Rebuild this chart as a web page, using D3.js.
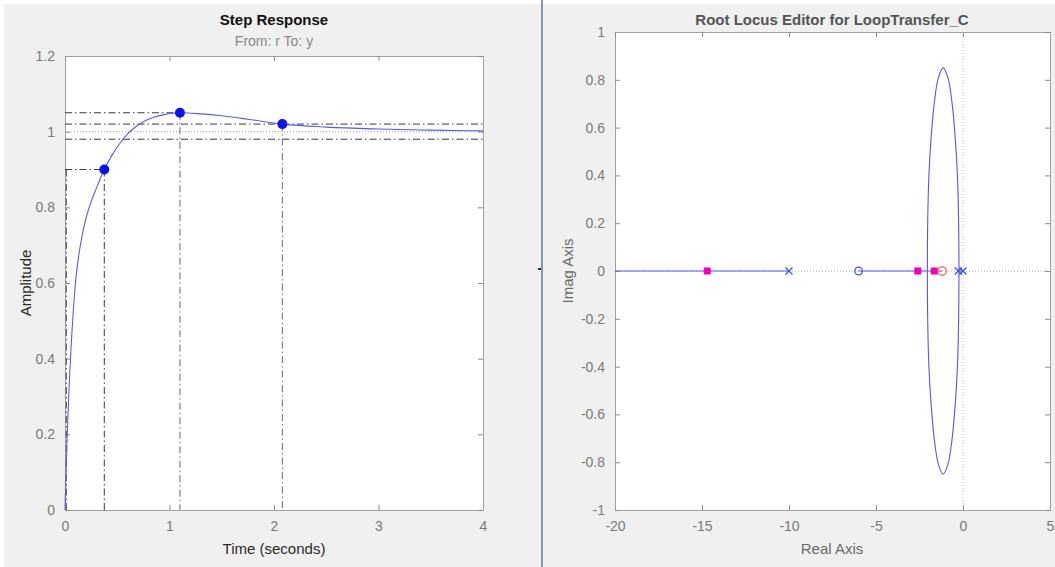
<!DOCTYPE html>
<html>
<head>
<meta charset="utf-8">
<script src="https://cdn.jsdelivr.net/npm/d3@7"></script>
<style>
  html, body { margin: 0; padding: 0; background: #ffffff; }
  svg { display: block; font-family: "Liberation Sans", Arial, sans-serif; }
</style>
</head>
<body>
<svg id="fig" width="1055" height="567"></svg>
<script>
// ---- Step response samples (time in s, amplitude) ----
const stepTime = [0, 0.01, 0.02, 0.04, 0.06, 0.08, 0.10, 0.13, 0.16, 0.20, 0.25, 0.30, 0.376, 0.45, 0.533, 0.60, 0.65, 0.75, 0.85, 0.95, 1.10, 1.30, 1.50, 1.75, 2.08, 2.50, 3.00, 3.50, 4.00];
const stepAmp  = [0, 0.10, 0.19, 0.33, 0.44, 0.53, 0.60, 0.67, 0.72, 0.77, 0.815, 0.85, 0.90, 0.938, 0.972, 0.994, 1.007, 1.026, 1.038, 1.045, 1.05, 1.047, 1.042, 1.033, 1.02, 1.012, 1.007, 1.004, 1.002];

// Characteristic points: rise time (90%), peak, settling time
const riseTime = 0.376, riseLevel = 0.90, riseStart = 0.012;
const peakTime = 1.10, peakAmp = 1.05;
const settleTime = 2.08, settleAmp = 1.02;
const settleBand = [1.02, 0.98];
const steadyState = 1.0;

const stepXTicks = [0, 1, 2, 3, 4];
const stepYTicks = [0, 0.2, 0.4, 0.6, 0.8, 1, 1.2];

// ---- Root locus (real, imaginary) ----
const locusUpperRe = [-0.23, -0.25, -0.32, -0.45, -0.64, -0.87, -1.14, -1.41, -1.64, -1.83, -1.96, -2.03, -2.05];
const locusUpperIm = [0, 0.2, 0.4, 0.56, 0.71, 0.81, 0.85, 0.81, 0.71, 0.56, 0.4, 0.2, 0];
const locusLowerRe = [-0.23, -0.25, -0.32, -0.45, -0.64, -0.87, -1.14, -1.41, -1.64, -1.83, -1.96, -2.03, -2.05];
const locusLowerIm = [0, -0.2, -0.4, -0.56, -0.71, -0.81, -0.85, -0.81, -0.71, -0.56, -0.4, -0.2, 0];
const realAxisSegments = [[-20, -10], [-6, -1.2], [-0.27, 0]];

const openLoopPoles = [-10, -0.27, 0];
const plantZeros = [-6];
const compensatorZeros = [-1.2];
const closedLoopPoles = [-14.7, -2.6, -1.65];

const rlXTicks = [-20, -15, -10, -5, 0, 5];
const rlYTicks = [-1, -0.8, -0.6, -0.4, -0.2, 0, 0.2, 0.4, 0.6, 0.8, 1];

// ---- Layout ----
const svg = d3.select("#fig");
const W = 1055, H = 567;

svg.append("rect").attr("x", 4).attr("y", 4).attr("width", W - 4).attr("height", H - 4).attr("fill", "#f0f0f0");
// panel splitter
svg.append("rect").attr("x", 541).attr("y", 0).attr("width", 2).attr("height", H).attr("fill", "#8596b3");
svg.append("rect").attr("x", 538).attr("y", 268).attr("width", 3).attr("height", 2).attr("fill", "#333");

const tickColor = "#8a8a8a";
const labelColor = "#7a7a7a";
const plainNum = d => String(d);   // ASCII hyphen for negatives

function drawBox(g, x0, x1, y0, y1, xs, ys, xTicks, yTicks) {
  g.append("rect").attr("x", x0).attr("y", y0).attr("width", x1 - x0).attr("height", y1 - y0)
    .attr("fill", "#ffffff");
  const ax = g.append("g").attr("transform", `translate(0,${y1})`)
    .call(d3.axisBottom(xs).tickValues(xTicks).tickSizeInner(-5).tickSizeOuter(0).tickPadding(11).tickFormat(plainNum));
  const ay = g.append("g").attr("transform", `translate(${x0},0)`)
    .call(d3.axisLeft(ys).tickValues(yTicks).tickSizeInner(-5).tickSizeOuter(0).tickPadding(10).tickFormat(plainNum));
  const at = g.append("g").attr("transform", `translate(0,${y0})`)
    .call(d3.axisTop(xs).tickValues(xTicks).tickSizeInner(-5).tickSizeOuter(0).tickFormat(""));
  const ar = g.append("g").attr("transform", `translate(${x1},0)`)
    .call(d3.axisRight(ys).tickValues(yTicks).tickSizeInner(-5).tickSizeOuter(0).tickFormat(""));
  [ax, ay, at, ar].forEach(a => {
    a.select(".domain").attr("stroke", "#a0a0a0");
    a.selectAll(".tick line").attr("stroke", tickColor);
    a.selectAll(".tick text").attr("fill", labelColor).attr("font-size", 14)
      .attr("font-family", "Liberation Sans, Arial, sans-serif");
  });
}

// ================= Step response =================
const L = { x0: 65, x1: 483, y0: 56, y1: 510 };
const sx = d3.scaleLinear().domain([0, 4]).range([L.x0, L.x1]);
const sy = d3.scaleLinear().domain([0, 1.2]).range([L.y1, L.y0]);
const gL = svg.append("g");
drawBox(gL, L.x0, L.x1, L.y0, L.y1, sx, sy, stepXTicks, stepYTicks);

const dashDot = "7,3,1.5,3";
const refColor = "#3a3a3a";
function hLine(g, xa, xb, y, dash, color) {
  g.append("line").attr("x1", sx(xa)).attr("x2", sx(xb)).attr("y1", sy(y)).attr("y2", sy(y))
    .attr("stroke", color).attr("stroke-width", 1).attr("stroke-dasharray", dash);
}
function vLine(g, x, ya, yb, dash, color) {
  g.append("line").attr("x1", sx(x)).attr("x2", sx(x)).attr("y1", sy(ya)).attr("y2", sy(yb))
    .attr("stroke", color).attr("stroke-width", 1).attr("stroke-dasharray", dash);
}
// steady-state value
hLine(gL, 0, 4, steadyState, "1,2", "#a8a8a8");
// settling band
settleBand.forEach(v => hLine(gL, 0, 4, v, dashDot, refColor));
// peak
hLine(gL, 0, peakTime, peakAmp, dashDot, refColor);
vLine(gL, peakTime, peakAmp, 0, dashDot, "#6a6a6a");
// rise time
hLine(gL, 0, riseTime, riseLevel, dashDot, refColor);
vLine(gL, riseTime, riseLevel, 0, dashDot, refColor);
vLine(gL, riseStart, riseLevel, 0, dashDot, refColor);
// settling time
vLine(gL, settleTime, settleAmp, 0, dashDot, "#6a6a6a");

const stepPts = stepTime.map((t, i) => [t, stepAmp[i]]);
gL.append("path").datum(stepPts)
  .attr("d", d3.line().x(d => sx(d[0])).y(d => sy(d[1])).curve(d3.curveMonotoneX))
  .attr("fill", "none").attr("stroke", "#5b5bf0").attr("stroke-width", 1.1);

const charPts = [[riseTime, riseLevel], [peakTime, peakAmp], [settleTime, settleAmp]];
gL.selectAll("circle.char").data(charPts).join("circle").attr("class", "char")
  .attr("cx", d => sx(d[0])).attr("cy", d => sy(d[1])).attr("r", 5).attr("fill", "#0a14f0");

gL.append("text").attr("x", 274).attr("y", 25).attr("text-anchor", "middle")
  .attr("font-size", 15).attr("font-weight", "bold").attr("fill", "#111").text("Step Response");
gL.append("text").attr("x", 274).attr("y", 46).attr("text-anchor", "middle")
  .attr("font-size", 14).attr("fill", "#8a8a8a").text("From: r  To: y");
gL.append("text").attr("x", 274).attr("y", 554).attr("text-anchor", "middle")
  .attr("font-size", 15).attr("fill", "#2a2a2a").text("Time (seconds)");
gL.append("text").attr("transform", "translate(31,283) rotate(-90)").attr("text-anchor", "middle")
  .attr("font-size", 15).attr("fill", "#2a2a2a").text("Amplitude");

// ================= Root locus =================
const R = { x0: 615, x1: 1050, y0: 32, y1: 510 };
const rx = d3.scaleLinear().domain([-20, 5]).range([R.x0, R.x1]);
const ry = d3.scaleLinear().domain([-1, 1]).range([R.y1, R.y0]);
const gR = svg.append("g");
drawBox(gR, R.x0, R.x1, R.y0, R.y1, rx, ry, rlXTicks, rlYTicks);

// reference axes through the origin
gR.append("line").attr("x1", rx(-20)).attr("x2", rx(5)).attr("y1", ry(0)).attr("y2", ry(0))
  .attr("stroke", "#a9b0c8").attr("stroke-dasharray", "1,2");
gR.append("line").attr("x1", rx(0)).attr("x2", rx(0)).attr("y1", ry(1)).attr("y2", ry(-1))
  .attr("stroke", "#b8b8b8").attr("stroke-dasharray", "1,2");

const locusColor = "#5757ee";
realAxisSegments.forEach(s => {
  gR.append("line").attr("x1", rx(s[0])).attr("x2", rx(s[1])).attr("y1", ry(0)).attr("y2", ry(0))
    .attr("stroke", locusColor).attr("stroke-width", 1.1);
});
const locLine = d3.line().x(d => rx(d[0])).y(d => ry(d[1])).curve(d3.curveCatmullRom);
gR.append("path").datum(locusUpperRe.map((r, i) => [r, locusUpperIm[i]]))
  .attr("d", locLine).attr("fill", "none").attr("stroke", locusColor).attr("stroke-width", 1.1);
gR.append("path").datum(locusLowerRe.map((r, i) => [r, locusLowerIm[i]]))
  .attr("d", locLine).attr("fill", "none").attr("stroke", locusColor).attr("stroke-width", 1.1);

// open-loop poles (x)
openLoopPoles.forEach(p => {
  const cx = rx(p), cy = ry(0), s = 3.5;
  gR.append("path").attr("d", `M${cx - s},${cy - s}L${cx + s},${cy + s}M${cx - s},${cy + s}L${cx + s},${cy - s}`)
    .attr("stroke", "#3d55d8").attr("stroke-width", 1.3).attr("fill", "none");
});
// plant zeros
gR.selectAll("circle.pz").data(plantZeros).join("circle").attr("class", "pz")
  .attr("cx", d => rx(d)).attr("cy", ry(0)).attr("r", 3.8)
  .attr("fill", "none").attr("stroke", "#4a5ad8").attr("stroke-width", 1.3);
// closed-loop poles
gR.selectAll("rect.clp").data(closedLoopPoles).join("rect").attr("class", "clp")
  .attr("x", d => rx(d) - 3.5).attr("y", ry(0) - 3.5).attr("width", 7).attr("height", 7)
  .attr("fill", "#f000b4");
// compensator zeros
gR.selectAll("circle.cz").data(compensatorZeros).join("circle").attr("class", "cz")
  .attr("cx", d => rx(d)).attr("cy", ry(0)).attr("r", 4.2)
  .attr("fill", "none").attr("stroke", "#e8743c").attr("stroke-width", 1.3);

gR.append("text").attr("x", 832).attr("y", 25).attr("text-anchor", "middle")
  .attr("font-size", 15).attr("font-weight", "bold").attr("fill", "#555").text("Root Locus Editor for LoopTransfer_C");
gR.append("text").attr("x", 832).attr("y", 554).attr("text-anchor", "middle")
  .attr("font-size", 15).attr("fill", "#6a6a6a").text("Real Axis");
gR.append("text").attr("transform", "translate(573,271) rotate(-90)").attr("text-anchor", "middle")
  .attr("font-size", 15).attr("fill", "#6a6a6a").text("Imag Axis");
</script>
</body>
</html>
